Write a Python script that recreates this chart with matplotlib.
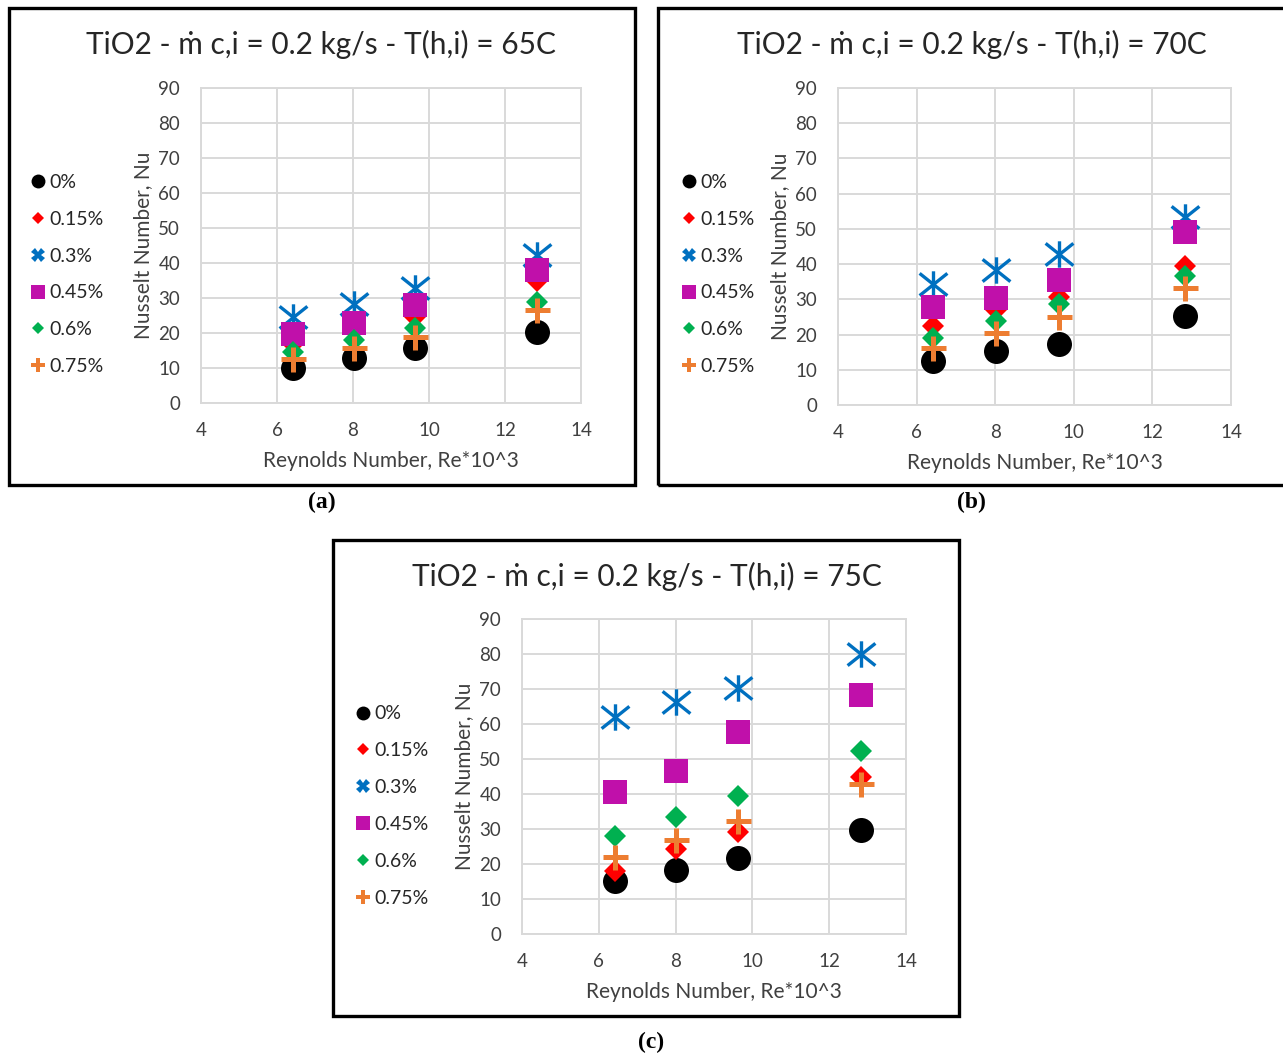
import numpy as np
import matplotlib
matplotlib.use("Agg")
import matplotlib.pyplot as plt
from matplotlib.path import Path
from matplotlib.patches import Rectangle
from matplotlib.lines import Line2D

plt.rcParams['font.family'] = ['Lato', 'DejaVu Sans']

W, H = 1283, 1057

# ---------------- data ----------------
reynolds = [6.42, 8.02, 9.63, 12.84]
series_labels = ["0%", "0.15%", "0.3%", "0.45%", "0.6%", "0.75%"]
titles = ["TiO2 - \u1e41 c,i = 0.2 kg/s - T(h,i) = 65C",
          "TiO2 - \u1e41 c,i = 0.2 kg/s - T(h,i) = 70C",
          "TiO2 - \u1e41 c,i = 0.2 kg/s - T(h,i) = 75C"]
panel_tags = ["(a)", "(b)", "(c)"]

# Panel (a) T = 65C
nu_a_0 = [10.1, 12.8, 15.6, 20.4]
nu_a_015 = [17.0, 22.0, 24.5, 35.0]
nu_a_03 = [24.5, 28.3, 33.0, 42.3]
nu_a_045 = [19.7, 23.0, 28.0, 38.0]
nu_a_06 = [14.7, 18.0, 21.3, 29.0]
nu_a_075 = [12.5, 15.6, 19.0, 26.6]

# Panel (b) T = 70C
nu_b_0 = [12.5, 15.4, 17.3, 25.4]
nu_b_015 = [22.4, 27.0, 30.8, 39.6]
nu_b_03 = [34.4, 38.2, 42.9, 53.5]
nu_b_045 = [27.7, 30.3, 35.5, 49.2]
nu_b_06 = [18.9, 23.9, 28.6, 36.6]
nu_b_075 = [16.1, 20.5, 24.9, 33.3]

# Panel (c) T = 75C
nu_c_0 = [15.2, 18.3, 21.8, 29.7]
nu_c_015 = [18.1, 24.2, 29.2, 44.9]
nu_c_03 = [61.9, 66.4, 70.2, 80.0]
nu_c_045 = [40.7, 46.7, 57.8, 68.3]
nu_c_06 = [28.1, 33.5, 39.5, 52.4]
nu_c_075 = [22.1, 27.0, 32.4, 43.0]

panels_data = [
    [nu_a_0, nu_a_015, nu_a_03, nu_a_045, nu_a_06, nu_a_075],
    [nu_b_0, nu_b_015, nu_b_03, nu_b_045, nu_b_06, nu_b_075],
    [nu_c_0, nu_c_015, nu_c_03, nu_c_045, nu_c_06, nu_c_075],
]
xticks = [4, 6, 8, 10, 12, 14]
yticks = [0, 10, 20, 30, 40, 50, 60, 70, 80, 90]

# ---------------- styles ----------------
star_path = Path(
    [(-1, -0.8), (1, 0.8), (-1, 0.8), (1, -0.8), (0, -0.95), (0, 0.95)],
    [Path.MOVETO, Path.LINETO, Path.MOVETO, Path.LINETO, Path.MOVETO, Path.LINETO])

styles = [
    dict(marker='o', color='black', ms=18, mew=0),
    dict(marker='D', color='#FF0000', ms=11.5, mew=0),
    dict(marker=star_path, color='#0070C0', ms=20, mew=2.4, fill=False),
    dict(marker='s', color='#C010AA', ms=17, mew=0),
    dict(marker='D', color='#00B050', ms=11.5, mew=0),
    dict(marker='+', color='#ED7D31', ms=18, mew=3.6, fill=False),
]
leg_styles = [
    dict(marker='o', color='black', ms=10, mew=0),
    dict(marker='D', color='#FF0000', ms=6.5, mew=0),
    dict(marker='X', color='#0070C0', ms=10, mew=0),
    dict(marker='s', color='#C010AA', ms=9.5, mew=0),
    dict(marker='D', color='#00B050', ms=6.5, mew=0),
    dict(marker='P', color='#ED7D31', ms=10, mew=0),
]

fig = plt.figure(figsize=(W / 100, H / 100), dpi=100)

def frac_rect(x0, y0, x1, y1):
    return [x0 / W, 1 - y1 / H, (x1 - x0) / W, (y1 - y0) / H]

axes_px = [(201, 88, 581, 403), (838, 88, 1231, 405), (522, 619, 906, 934)]
boxes_px = [(8.5, 8, 634.5, 485), (657.6, 8, 1295, 484.7), (333, 539.5, 959.5, 1016)]
title_px = [(321.5, 44), (972, 44), (646.5, 576)]
legend_px = [(32, 274.5), (683, 274.5), (357, 806)]
tag_px = [(322, 502), (971, 502), (651, 1042)]

grid_c = '#D9D9D9'
text_c = '#404040'

for i in range(3):
    ax = fig.add_axes(frac_rect(*axes_px[i]))
    for k, vals in enumerate(panels_data[i]):
        st = styles[k]
        if st.get('fill', True):
            ax.plot(reynolds, vals, linestyle='none', marker=st['marker'],
                    markersize=st['ms'], markerfacecolor=st['color'],
                    markeredgecolor=st['color'], markeredgewidth=st['mew'],
                    zorder=3 + k, clip_on=False)
        else:
            ax.plot(reynolds, vals, linestyle='none', marker=st['marker'],
                    markersize=st['ms'], color=st['color'],
                    markeredgewidth=st['mew'], zorder=3 + k, clip_on=False)
    ax.set_xlim(4, 14)
    ax.set_ylim(0, 90)
    ax.set_xticks(xticks)
    ax.set_yticks(yticks)
    ax.grid(True, color=grid_c, linewidth=1.4)
    ax.set_axisbelow(True)
    for sp in ax.spines.values():
        sp.set_color(grid_c)
        sp.set_linewidth(1.4)
    ax.tick_params(length=0, labelsize=13.5, labelcolor=text_c, pad=14)
    ax.tick_params(axis='y', pad=15)
    ax.set_xlabel("Reynolds Number, Re*10^3", fontsize=15, color=text_c, labelpad=8)
    ax.set_ylabel("Nusselt Number, Nu", fontsize=15, color=text_c, labelpad=4)

    handles = []
    for st in leg_styles:
        handles.append(Line2D([], [], linestyle='none', marker=st['marker'],
                              markersize=st['ms'], markerfacecolor=st['color'],
                              markeredgecolor=st['color'], markeredgewidth=0))
    lx, ly = legend_px[i]
    fig.legend(handles, series_labels, loc='center left',
               bbox_to_anchor=(lx / W, 1 - ly / H), frameon=False,
               fontsize=14, labelcolor='#262626', handlelength=0.6,
               handletextpad=0.3, labelspacing=1.02, borderpad=0,
               borderaxespad=0)

    tx, ty = title_px[i]
    fig.text(tx / W, 1 - ty / H, titles[i], ha='center', va='center',
             fontsize=21.5, color='#262626')

    bx0, by0, bx1, by1 = boxes_px[i]
    fig.add_artist(Rectangle((bx0 / W, 1 - by1 / H), (bx1 - bx0) / W, (by1 - by0) / H,
                             transform=fig.transFigure, fill=False,
                             edgecolor='black', linewidth=2.4))
    gx, gy = tag_px[i]
    fig.text(gx / W, 1 - gy / H, panel_tags[i], ha='center', va='center',
             fontsize=17, fontweight='bold', family='Liberation Serif', color='black')

fig.savefig("out.png", dpi=100)
